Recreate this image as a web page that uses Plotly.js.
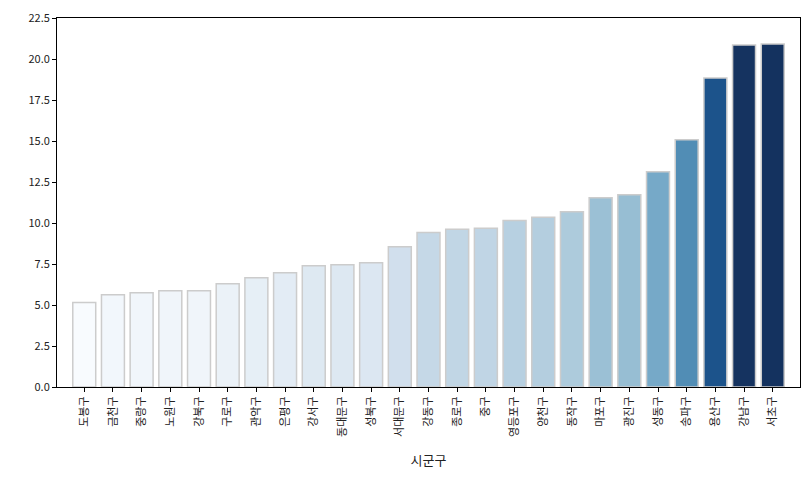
<!DOCTYPE html>
<html>
<head>
<meta charset="utf-8">
<script src="https://cdn.plot.ly/plotly-3.0.1.min.js"></script>
<style>html,body{margin:0;padding:0;background:#fff;overflow:hidden;width:811px;height:483px;}</style>
</head>
<body>
<div id="chart" style="width:811px;height:483px;"></div>
<script>
const districts = ["도봉구","금천구","중랑구","노원구","강북구","구로구","관악구","은평구","강서구","동대문구","성북구","서대문구","강동구","종로구","중구","영등포구","양천구","동작구","마포구","광진구","성동구","송파구","용산구","강남구","서초구"];
const values = [5.15,5.63,5.75,5.87,5.87,6.30,6.66,6.97,7.40,7.46,7.58,8.55,9.42,9.62,9.68,10.16,10.35,10.69,11.54,11.73,13.13,15.08,18.84,20.85,20.91];
const yTicks = [0,2.5,5,7.5,10,12.5,15,17.5,20,22.5];

// matplotlib Blues colormap stops
const bluesStops = ["#f7fbff","#deebf7","#c6dbef","#9ecae1","#6baed6","#4292c6","#2171b5","#08519c","#08306b"];
function hex2rgb(h){return [parseInt(h.slice(1,3),16),parseInt(h.slice(3,5),16),parseInt(h.slice(5,7),16)];}
function blues(t){
  t=Math.max(0,Math.min(1,t));
  const n=bluesStops.length-1, p=t*n, i=Math.min(Math.floor(p),n-1), f=p-i;
  const a=hex2rgb(bluesStops[i]), b=hex2rgb(bluesStops[i+1]);
  return a.map((v,k)=>(v+(b[k]-v)*f)/255);
}
function desat(rgb,s){
  const [r,g,b]=rgb, mx=Math.max(r,g,b), mn=Math.min(r,g,b), l=(mx+mn)/2;
  let h=0, sat=0;
  if(mx!==mn){
    const d=mx-mn;
    sat = l<=0.5 ? d/(mx+mn) : d/(2-mx-mn);
    if(mx===r) h=((g-b)/d)%6; else if(mx===g) h=(b-r)/d+2; else h=(r-g)/d+4;
    h/=6; if(h<0) h+=1;
  }
  sat*=s;
  const q = l<=0.5 ? l*(1+sat) : l+sat-l*sat, p2=2*l-q;
  function hue(t){t=(t%1+1)%1; if(t<1/6) return p2+(q-p2)*6*t; if(t<0.5) return q; if(t<2/3) return p2+(q-p2)*(2/3-t)*6; return p2;}
  const out = sat===0 ? [l,l,l] : [hue(h+1/3),hue(h),hue(h-1/3)];
  return "rgb("+out.map(v=>Math.round(v*255)).join(",")+")";
}
const vmin=Math.min(...values), vmax=Math.max(...values);
const colors = values.map(v=>desat(blues((v-vmin)/(vmax-vmin)),0.75));

const font = "'Noto Sans CJK KR', 'Noto Sans', sans-serif";
Plotly.newPlot("chart",[{
  type:"bar", x:districts, y:values, width:0.8,
  marker:{color:colors, line:{color:"#cccccc", width:1.5}},
  hoverinfo:"x+y"
}],{
  width:811, height:483, autosize:false,
  margin:{l:57,r:11,t:18,b:96},
  paper_bgcolor:"#fff", plot_bgcolor:"#fff",
  font:{family:font, color:"#222", size:11},
  showlegend:false,
  xaxis:{
    type:"category", range:[-0.95,24.95], automargin:false,
    tickangle:-90, tickfont:{size:11, family:font},
    ticks:"outside", ticklen:4, tickcolor:"#000",
    showline:true, linecolor:"#000", linewidth:1, mirror:true,
    showgrid:false, zeroline:false,
    title:{text:"시군구", font:{size:13, family:font}, standoff:20}
  },
  yaxis:{
    range:[0,22.5], tickvals:yTicks, ticktext:yTicks.map(v=>v.toFixed(1)), automargin:false,
    tickfont:{size:11, family:font},
    ticks:"outside", ticklen:4, tickcolor:"#000",
    showline:true, linecolor:"#000", linewidth:1, mirror:true,
    showgrid:false, zeroline:false
  }
},{displayModeBar:false, staticPlot:true});
</script>
</body>
</html>
